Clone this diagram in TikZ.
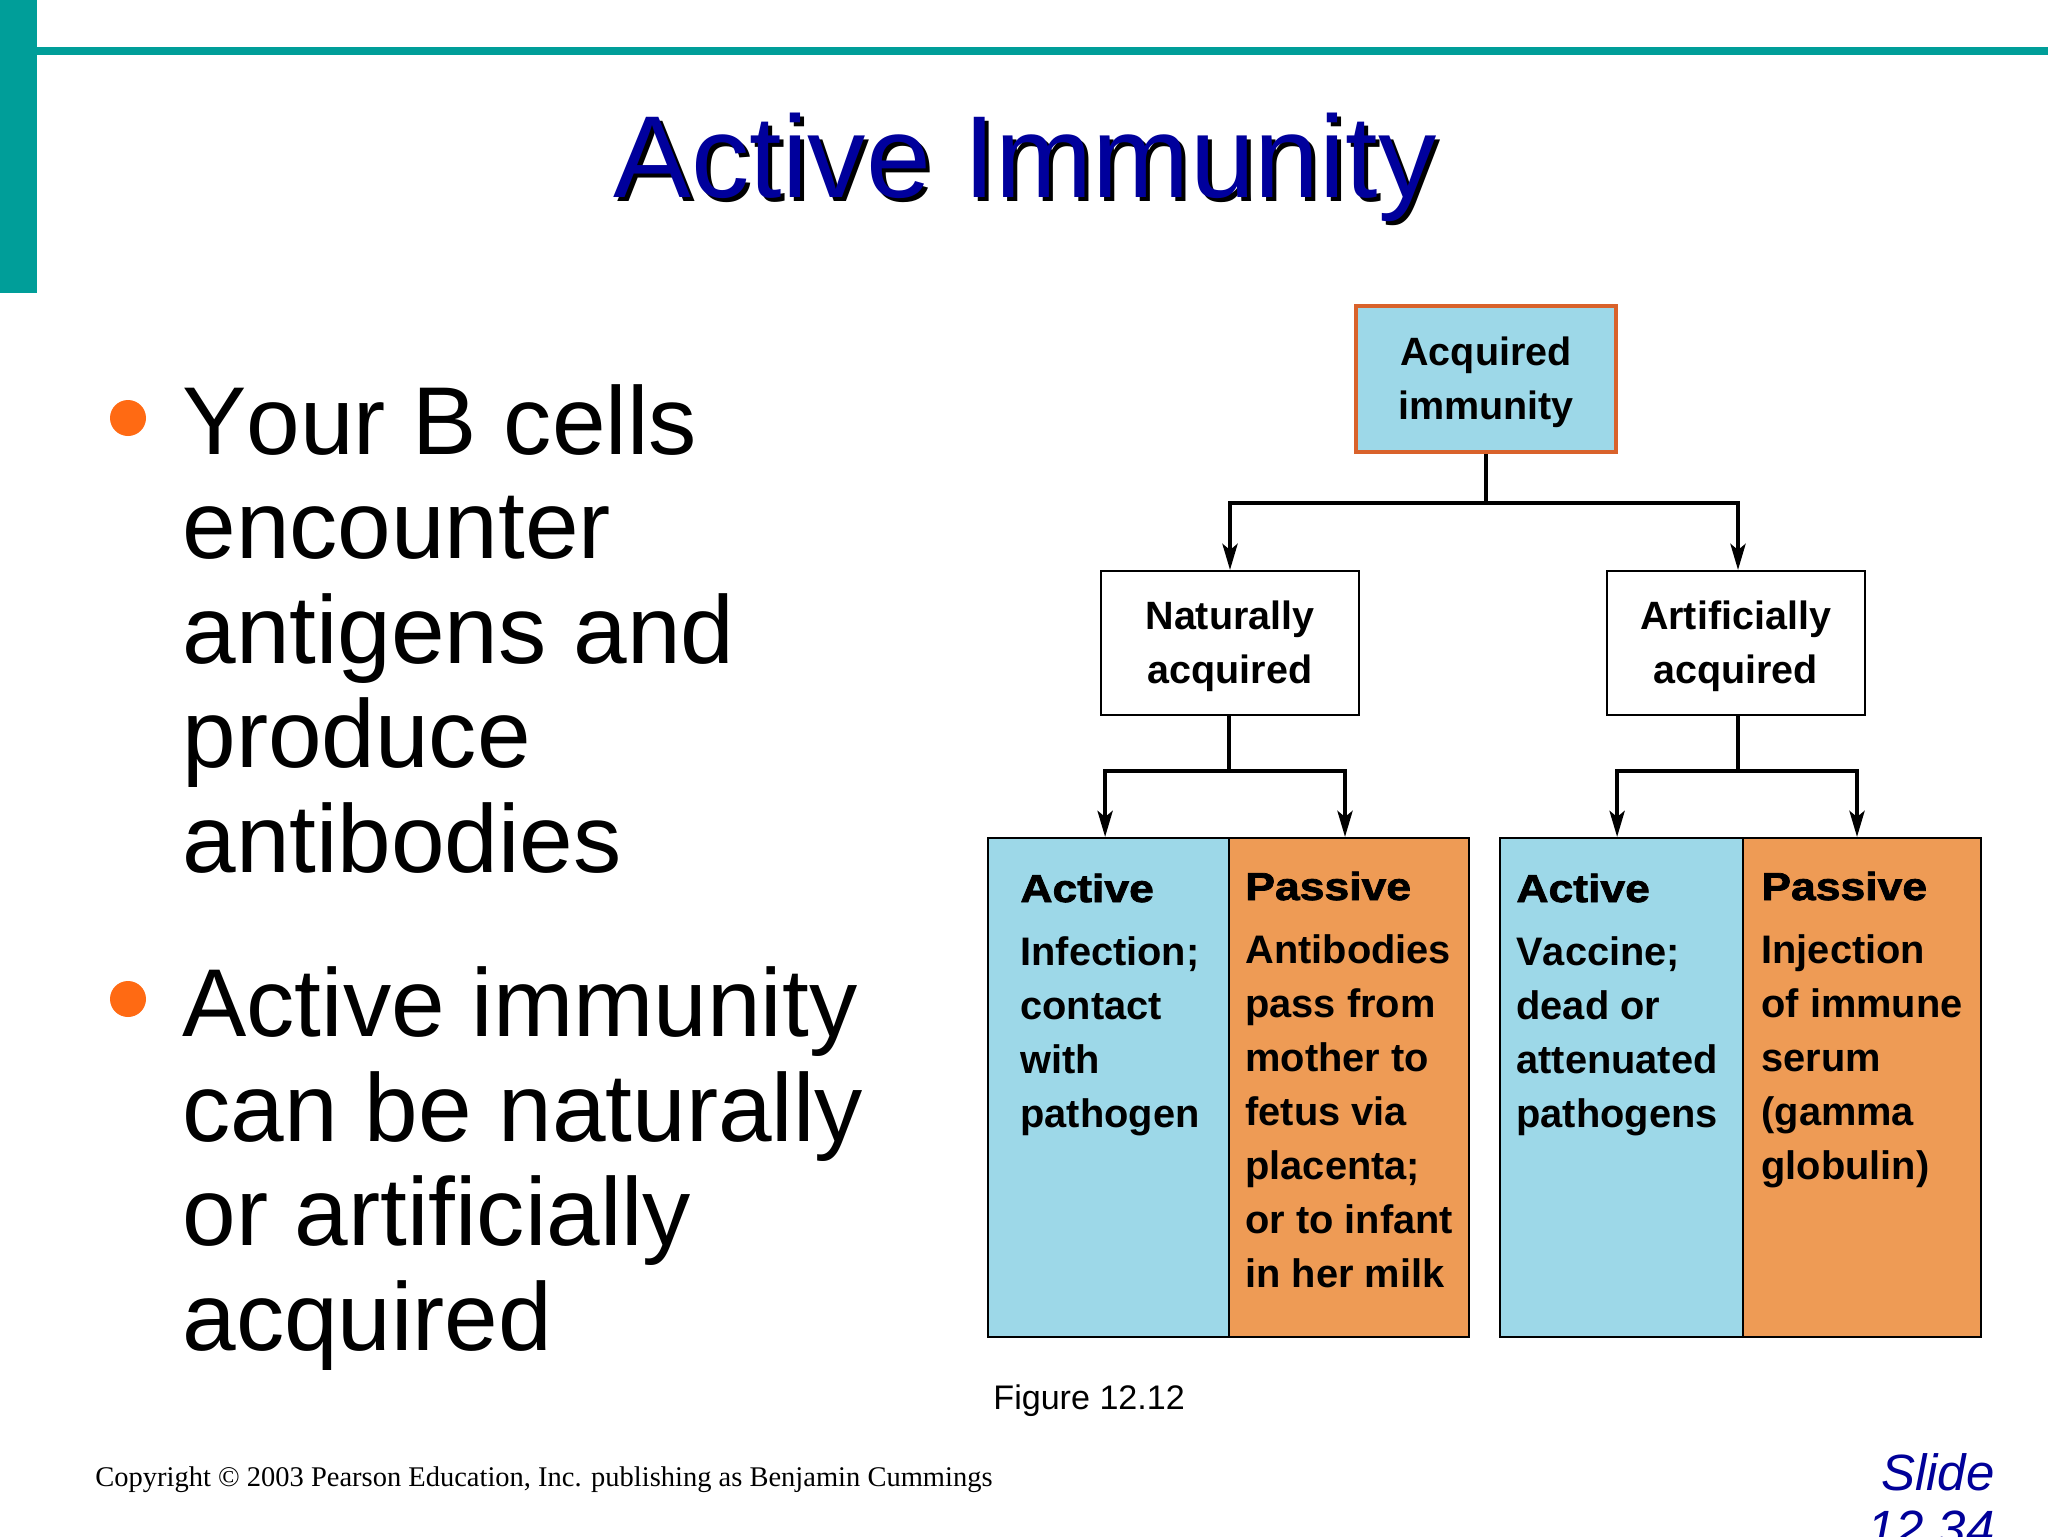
\documentclass[tikz,border=0pt]{standalone}
\usepackage{fontspec}
\usetikzlibrary{arrows.meta}
\setmainfont[Kerning=Off]{Liberation Sans}
\newfontfamily\headfont[FakeStretch=1.14,FakeBold=2]{Liberation Sans}
\newfontfamily\copyfont{Liberation Serif}
\definecolor{tealbar}{HTML}{009E99}
\definecolor{navytitle}{HTML}{00009C}
\definecolor{panelblue}{HTML}{9DD8E8}
\definecolor{panelorange}{HTML}{EE9B55}
\definecolor{boxedge}{HTML}{D9622B}
\definecolor{bulletorange}{HTML}{FF6A13}
\definecolor{slideblue}{HTML}{000099}
\newcommand{\liftline}{\rule{0pt}{18pt}}
\tikzset{
  x=0.5pt,y=-0.5pt,
  box/.style={draw=black,line width=1pt,fill=white,minimum width=129pt,minimum height=72pt,inner sep=0pt,align=center,font=\fontsize{19.75}{27}\selectfont\bfseries},
  panel/.style={draw=black,line width=1pt,minimum height=249.5pt,inner sep=0pt},
  bluepanel/.style={panel,fill=panelblue},
  orangepanel/.style={panel,fill=panelorange},
  paneltext/.style={anchor=base west,align=left,inner sep=0pt,font=\fontsize{19.9}{27}\selectfont\bfseries},
  panelhead/.style={anchor=base west,inner sep=0pt,font=\fontsize{19.5}{27}\selectfont\headfont\bfseries},
  bodytext/.style={anchor=base west,align=left,inner sep=0pt,font=\fontsize{48.2}{52.25}\selectfont},
  bulletdot/.style={circle,fill=bulletorange,minimum size=18pt,inner sep=0pt},
  trunk/.style={draw=black,line width=2.2pt},
  branch/.style={draw=black,line width=2.2pt,-{Stealth[length=13pt,width=7.5pt,inset=3pt]}},
}
\begin{document}
\begin{tikzpicture}
\useasboundingbox (0,0) rectangle (2048,1536);
\clip (0,0) rectangle (2048,1536);
\fill[white] (0,0) rectangle (2048,1536);
\fill[tealbar] (0,0) rectangle (37,293);
\fill[tealbar] (37,47) rectangle (2048,55);

\node[anchor=base,inner sep=0pt,font=\fontsize{58.3}{60}\selectfont] (titleshadow) at (1029,201) {Active Immunity};
\node[anchor=base,inner sep=0pt,text=navytitle,font=\fontsize{58.3}{60}\selectfont] (titletext) at (1025,197) {Active Immunity};

\node[bulletdot] (dotone) at (128,418) {};
\node[bulletdot] (dottwo) at (128,999) {};
\node[bodytext] (bodyone) at (182,872) {Your B cells\\encounter\\antigens and\\produce\\antibodies};
\node[bodytext] (bodytwo) at (182,1350) {Active immunity\\can be naturally\\or artificially\\acquired};

\node[box,draw=boxedge,line width=2.2pt,fill=panelblue,minimum width=130pt,minimum height=73pt] (acq) at (1486,379) {\liftline Acquired\\immunity};
\node[box] (nat) at (1230,643) {\liftline Naturally\\acquired};
\node[box] (art) at (1735.5,643) {\liftline Artificially\\acquired};

\node[bluepanel,minimum width=120.3pt] (pa) at (1108.3,1087.5) {};
\node[orangepanel,minimum width=120.2pt] (pb) at (1348.8,1087.5) {};
\node[bluepanel,minimum width=121.5pt] (pc) at (1621.5,1087.5) {};
\node[orangepanel,minimum width=119pt] (pd) at (1862,1087.5) {};

\node[panelhead] (ha) at (1020,902) {Active};
\node[panelhead] (hb) at (1245,900) {Passive};
\node[panelhead] (hc) at (1516,902) {Active};
\node[panelhead] (hd) at (1761,900) {Passive};

\node[paneltext] (ta) at (1020,1127) {Infection;\\contact\\with\\pathogen};
\node[paneltext] (tb) at (1245,1287) {Antibodies\\pass from\\mother to\\fetus via\\placenta;\\or to infant\\in her milk};
\node[paneltext] (tc) at (1516,1127) {Vaccine;\\dead or\\attenuated\\pathogens};
\node[paneltext] (td) at (1761,1179) {Injection\\of immune\\serum\\(gamma\\globulin)};

\coordinate (jtop) at (1486,503);
\coordinate (jnat) at (1229,771);
\coordinate (jart) at (1738,771);
\draw[trunk] (acq.south) -- (jtop);
\draw[branch] (jtop) -| (nat.north);
\draw[branch] (jtop) -| ([xshift=1.25pt]art.north);
\draw[trunk] (jnat |- nat.south) -- (jnat);
\draw[trunk] (jart |- art.south) -- (jart);
\draw[branch] (jnat) -| ([xshift=-1.6pt]pa.north);
\draw[branch] (jnat) -| ([xshift=-1.9pt]pb.north);
\draw[branch] (jart) -| ([xshift=-2.2pt]pc.north);
\draw[branch] (jart) -| ([xshift=-2.5pt]pd.north);

\node[anchor=base west,inner sep=0pt,font=\fontsize{17.05}{20}\selectfont] (figlabel) at (993,1409) {Figure 12.12};
\node[anchor=base west,inner sep=0pt,font=\fontsize{14.25}{18}\selectfont\copyfont] (copyright) at (95,1486) {Copyright © 2003 Pearson Education, Inc. publishing as Benjamin Cummings};
\node[anchor=base east,align=right,inner sep=0pt,text=slideblue,font=\fontsize{25.5}{28}\selectfont\itshape] (slidelabel) at (1995,1546) {Slide\\12.34};
\end{tikzpicture}
\end{document}
